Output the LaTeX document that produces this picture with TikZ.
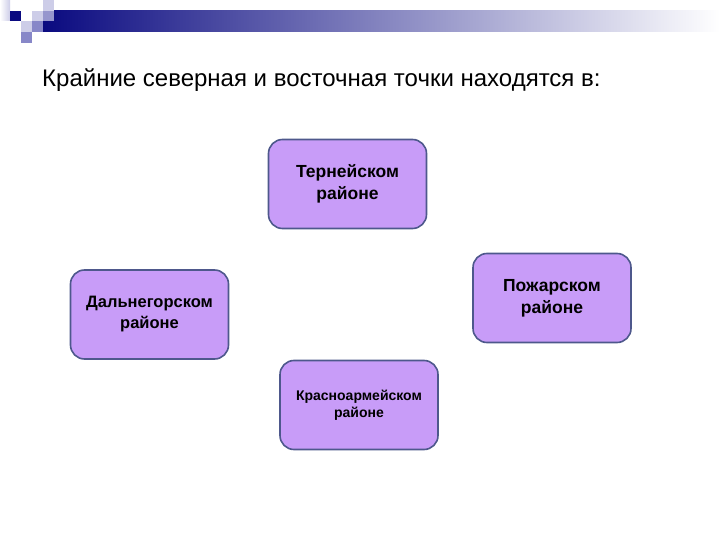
\documentclass[tikz,border=0pt]{standalone}
\usepackage{fontspec}
\setmainfont{Liberation Sans}
\definecolor{boxfill}{RGB}{200,156,248}
\definecolor{boxline}{RGB}{78,88,140}
\definecolor{navy}{RGB}{10,10,128}
\definecolor{lav1}{RGB}{205,205,232}
\definecolor{lav2}{RGB}{150,150,205}
\definecolor{lav3}{RGB}{135,135,200}
\begin{document}
\begin{tikzpicture}[x=1pt,y=-1pt,
  district/.style={draw=boxline, line width=1.6pt, fill=boxfill, rounded corners=14pt,
    minimum width=158pt, minimum height=89pt, align=center, text=black, font=\bfseries\fontsize{17.5}{22}\selectfont}]
\useasboundingbox (0,0) rectangle (720,540);
\fill[white] (0,0) rectangle (720,540);
% top decoration
\shade[left color=navy, right color=white, shading angle=90] (43,11) rectangle (720,32);
\shade[left color=white, right color=lav1] (0,0) rectangle (10,21);
\fill[navy] (10,11) rectangle (21,21);
\fill[white] (21,11) rectangle (32,21);
\fill[lav1] (32,11) rectangle (43,21);
\fill[lav1] (43,0) rectangle (54,11);
\fill[lav2] (43,11) rectangle (54,21);
\fill[lav1] (21,21) rectangle (32,32);
\fill[lav3] (32,21) rectangle (43,32);
\fill[lav3] (21,32) rectangle (32,43);
% title
\node[anchor=base west, inner sep=0pt, font=\fontsize{24}{29}\selectfont] (title) at (42,87)
  {Крайние северная и восточная точки находятся в:};
% boxes
\node[district] (tern) at (347.5,184) {Тернейском\\районе};
\node[district, font=\bfseries\fontsize{16.5}{21}\selectfont] (dal) at (149.5,314.5) {Дальнегорском\\районе};
\node[district] (pozh) at (552,298) {Пожарском\\районе};
\node[district, font=\bfseries\fontsize{14}{17}\selectfont] (kras) at (359,405) {Красноармейском\\районе};
\end{tikzpicture}
\end{document}
